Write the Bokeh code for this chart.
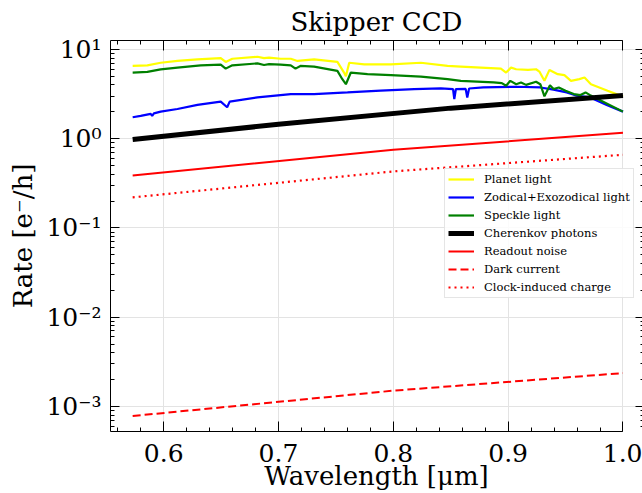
from bokeh.plotting import figure
from bokeh.models import (Range1d, FixedTicker, LinearAxis, LogAxis, Legend, LegendItem,
                          CustomJSTickFormatter, PrintfTickFormatter)
from bokeh.embed import file_html
from bokeh.resources import INLINE

# ---------------- data ----------------
planet_wl = [0.5730, 0.5858, 0.5974, 0.6120, 0.6294, 0.6497, 0.6540, 0.6598, 0.6817, 0.6874,
             0.6918, 0.7019, 0.7107, 0.7165, 0.7310, 0.7513, 0.7571, 0.7587, 0.7616, 0.7747,
             0.7979, 0.8240, 0.8472, 0.8588, 0.8937, 0.8982, 0.9025, 0.9070, 0.9173, 0.9243,
             0.9272, 0.9316, 0.9360, 0.9432, 0.9490, 0.9547, 0.9620, 0.9665, 0.9721, 0.9866,
             1.0000]
planet_rate = [6.54, 6.64, 7.10, 7.43, 7.74, 8.00, 7.25, 7.87, 8.28, 8.00,
               8.10, 7.87, 7.87, 7.43, 7.74, 7.25, 5.51, 5.00, 7.10, 6.82,
               6.82, 7.10, 6.54, 6.43, 6.10, 5.51, 6.26, 6.00, 5.90, 6.00,
               5.65, 4.45, 5.90, 5.28, 5.15, 4.45, 4.65, 4.85, 4.08, 3.45,
               2.96]

zodi_wl = [0.5730, 0.5800, 0.5887, 0.5900, 0.5915, 0.5974, 0.6120, 0.6294, 0.6497, 0.6553,
           0.6575, 0.6817, 0.7107, 0.7310, 0.7601, 0.7890, 0.8182, 0.8414, 0.8520, 0.8531,
           0.8545, 0.8630, 0.8644, 0.8660, 0.8783, 0.9073, 0.9280, 0.9395, 0.9510, 0.9598,
           0.9714, 0.9858, 1.0000]
zodi_rate = [1.74, 1.80, 1.90, 1.80, 1.92, 2.01, 2.15, 2.39, 2.60, 2.25,
             2.60, 2.90, 3.16, 3.16, 3.30, 3.45, 3.60, 3.66, 3.60, 2.78,
             3.60, 3.62, 2.90, 3.65, 3.75, 3.82, 3.75, 3.54, 3.30, 3.04,
             2.90, 2.39, 2.01]

speckle_wl = [0.5730, 0.5858, 0.5974, 0.6120, 0.6323, 0.6497, 0.6540, 0.6598, 0.6817, 0.6874,
              0.6918, 0.7019, 0.7107, 0.7148, 0.7191, 0.7310, 0.7513, 0.7556, 0.7587, 0.7630,
              0.7775, 0.7979, 0.8240, 0.8472, 0.8588, 0.8873, 0.8945, 0.8982, 0.9019, 0.9070,
              0.9112, 0.9156, 0.9243, 0.9280, 0.9316, 0.9364, 0.9395, 0.9441, 0.9500, 0.9571,
              0.9630, 0.9674, 0.9720, 0.9866, 1.0000]
speckle_rate = [5.51, 5.61, 5.98, 6.25, 6.64, 6.76, 6.10, 6.64, 6.98, 6.70,
                6.85, 6.76, 6.64, 6.10, 6.54, 6.43, 5.75, 4.64, 4.08, 5.51,
                5.28, 5.15, 4.97, 4.64, 4.45, 4.27, 4.19, 3.92, 4.45, 4.08,
                4.27, 4.01, 4.34, 4.08, 2.98, 3.98, 3.60, 3.75, 3.45, 3.16,
                3.08, 3.30, 3.04, 2.45, 2.01]

cher_wl = [0.5730, 0.7000, 0.8500, 1.0000]
cher_rate = [0.98, 1.45, 2.20, 3.04]

readout_wl = [0.5730, 0.8000, 1.0000]
readout_rate = [0.387, 0.75, 1.166]

dark_wl = [0.5730, 0.8000, 1.0000]
dark_rate = [7.8e-4, 1.5e-3, 2.36e-3]

cic_wl = [0.5730, 0.8000, 1.0000]
cic_rate = [0.22, 0.43, 0.66]

x_ticks = [0.6, 0.7, 0.8, 0.9, 1.0]
x_minor = [round(0.56 + 0.02 * i, 2) for i in range(23)]
y_ticks = [1e-3, 1e-2, 1e-1, 1e0, 1e1]
y_minor = [m * 10.0 ** e for e in range(-4, 2) for m in range(2, 10)]

X0, X1 = 0.5537, 1.0170
Y0, Y1 = 5.23e-4, 12.6
FONT = "DejaVu Serif"

# ---------------- figure ----------------
p = figure(width=642, height=493, x_range=Range1d(X0, X1), y_range=Range1d(Y0, Y1),
           y_axis_type="log", output_backend="svg", toolbar_location=None,
           min_border_left=110, min_border_right=0, min_border_top=37, min_border_bottom=58,
           background_fill_color="white", border_fill_color="white",
           outline_line_color=None)

p.title.text = "Skipper CCD"
p.title.text_font = FONT
p.title.text_font_size = "26px"
p.title.text_font_style = "normal"
p.title.text_color = "black"
p.title.align = "center"
p.title.standoff = 8

sup_js = """
const s = {'-':'\u207b','0':'\u2070','1':'\u00b9','2':'\u00b2','3':'\u00b3','4':'\u2074',
           '5':'\u2075','6':'\u2076','7':'\u2077','8':'\u2078','9':'\u2079'};
const e = Math.round(Math.log10(tick));
return '10' + String(e).split('').map(c => s[c]).join('');
"""
empty_fmt = CustomJSTickFormatter(code="return '';")


def style_axis(ax, major_in, minor_in):
    ax.major_tick_in = major_in
    ax.major_tick_out = 0
    ax.minor_tick_in = minor_in
    ax.minor_tick_out = 0
    ax.axis_line_color = "black"
    ax.major_tick_line_color = "black"
    ax.minor_tick_line_color = "black"
    ax.major_label_text_font = FONT
    ax.major_label_text_color = "black"
    ax.axis_label_text_font = FONT
    ax.axis_label_text_color = "black"
    ax.axis_label_text_font_style = "normal"


xax = p.xaxis[0]
xax.ticker = FixedTicker(ticks=x_ticks, minor_ticks=x_minor)
xax.formatter = PrintfTickFormatter(format="%.1f")
style_axis(xax, 10, 4)
xax.bounds = (X0, 1.0)
xax.major_label_text_font_size = "25px"
xax.major_label_standoff = 12
xax.axis_label = "Wavelength [\u03bcm]"
xax.axis_label_text_font_size = "26px"
xax.axis_label_standoff = -4

yax = p.yaxis[0]
yax.ticker = FixedTicker(ticks=y_ticks, minor_ticks=y_minor)
yax.formatter = CustomJSTickFormatter(code=sup_js)
style_axis(yax, 9, 4)
yax.major_label_text_font_size = "25px"
yax.major_label_standoff = 9
yax.axis_label = "Rate [e\u207b/h]"
yax.axis_label_text_font_size = "26px"
yax.axis_label_standoff = 5

top = LinearAxis(ticker=FixedTicker(ticks=x_ticks, minor_ticks=x_minor), formatter=empty_fmt)
style_axis(top, 10, 4)
top.bounds = (X0, 1.0)
top.major_label_text_font_size = "0px"
top.major_label_standoff = 0
p.add_layout(top, "above")

right = LogAxis(ticker=FixedTicker(ticks=y_ticks, minor_ticks=y_minor), formatter=empty_fmt)
style_axis(right, 7, 2)
right.axis_line_color = None
right.major_label_text_font_size = "0px"
right.major_label_standoff = 0
p.add_layout(right, "right")

p.xgrid.ticker = FixedTicker(ticks=x_ticks)
p.ygrid.ticker = FixedTicker(ticks=y_ticks)
for g in (p.xgrid, p.ygrid):
    g.grid_line_color = "#e3e3e3"
    g.grid_line_width = 1

# ---------------- lines ----------------
r1 = p.line(planet_wl, planet_rate, line_color="#ffff00", line_width=2.2)
r2 = p.line(zodi_wl, zodi_rate, line_color="#0000ff", line_width=2.2)
r3 = p.line(speckle_wl, speckle_rate, line_color="#008000", line_width=2.2)
r4 = p.line(cher_wl, cher_rate, line_color="black", line_width=5)
r5 = p.line(readout_wl, readout_rate, line_color="#ff0000", line_width=2)
r6 = p.line(dark_wl, dark_rate, line_color="#ff0000", line_width=2, line_dash="8 4")
r7 = p.line(cic_wl, cic_rate, line_color="#ff0000", line_width=2.2, line_dash="2 4")

legend = Legend(items=[
    LegendItem(label="Planet light", renderers=[r1]),
    LegendItem(label="Zodical+Exozodical light", renderers=[r2]),
    LegendItem(label="Speckle light", renderers=[r3]),
    LegendItem(label="Cherenkov photons", renderers=[r4]),
    LegendItem(label="Readout noise", renderers=[r5]),
    LegendItem(label="Dark current", renderers=[r6]),
    LegendItem(label="Clock-induced charge", renderers=[r7]),
], location=(334, 133), label_text_font=FONT, label_text_font_size="11.5px",
    label_text_color="black", glyph_width=26, glyph_height=14, label_height=14,
    spacing=4, padding=3, label_standoff=10, margin=0,
    border_line_color="#cccccc", border_line_width=1,
    background_fill_color="white", background_fill_alpha=0.85)
p.add_layout(legend)

open("out.html", "w").write(file_html(p, INLINE))
